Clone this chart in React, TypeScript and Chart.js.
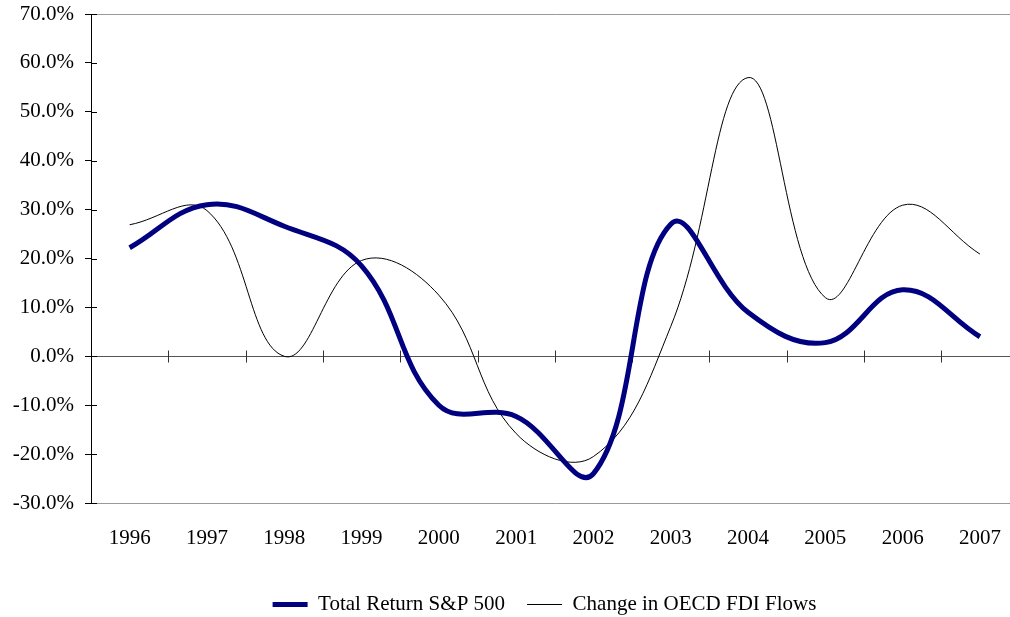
import React, { useEffect, useRef } from 'react';
import { Chart, registerables } from 'chart.js';

Chart.register(...registerables);

const FONT = "'Liberation Serif', 'Times New Roman', serif";

const years = ['1996', '1997', '1998', '1999', '2000', '2001', '2002', '2003', '2004', '2005', '2006', '2007'];
const sp500Return = [22.2, 31.0, 26.6, 18.5, -10.0, -12.3, -24.0, 27.0, 9.0, 2.8, 13.6, 4.0];
const oecdFdiChange = [26.9, 29.8, 0.0, 19.6, 12.5, -15.8, -20.5, 6.1, 57.0, 12.0, 30.9, 20.9];
const yMin = -30;
const yMax = 70;
const yStep = 10;

const seriesNames = ['Total Return S&P 500', 'Change in OECD FDI Flows'];

const zeroAxisPlugin = {
  id: 'zeroAxis',
  beforeDatasetsDraw(chart: any) {
    const { ctx, chartArea, scales } = chart;
    const xs = scales.x;
    const ys = scales.y;
    const y0 = Math.round(ys.getPixelForValue(0)) + 0.5;
    ctx.save();
    ctx.lineWidth = 1;
    ctx.strokeStyle = '#555555';
    ctx.beginPath();
    ctx.moveTo(chartArea.left, y0);
    ctx.lineTo(chartArea.right, y0);
    ctx.stroke();
    ctx.strokeStyle = '#333333';
    ctx.beginPath();
    for (let i = 1; i < years.length; i++) {
      const bx = Math.round((xs.getPixelForValue(i - 1) + xs.getPixelForValue(i)) / 2) + 0.5;
      ctx.moveTo(bx, y0 - 6);
      ctx.lineTo(bx, y0 + 6);
    }
    ctx.stroke();
    ctx.strokeStyle = '#000000';
    ctx.beginPath();
    ys.ticks.forEach((t: any) => {
      const py = Math.round(ys.getPixelForValue(t.value)) + 0.5;
      ctx.moveTo(chartArea.left, py);
      ctx.lineTo(chartArea.left + 6, py);
    });
    ctx.stroke();
    ctx.restore();
  },
};

export default function App() {
  const ref = useRef<HTMLCanvasElement | null>(null);

  useEffect(() => {
    if (!ref.current) return;
    const chart = new Chart(ref.current, {
      type: 'line',
      data: {
        labels: years,
        datasets: [
          {
            label: seriesNames[0],
            data: sp500Return,
            borderColor: '#000080',
            backgroundColor: '#000080',
            borderWidth: 5,
            pointRadius: 0,
            pointStyle: 'line',
            tension: 0.4,
            fill: false,
          },
          {
            label: seriesNames[1],
            data: oecdFdiChange,
            borderColor: '#000000',
            backgroundColor: '#000000',
            borderWidth: 1,
            pointRadius: 0,
            pointStyle: 'line',
            tension: 0.4,
            fill: false,
          },
        ],
      },
      options: {
        responsive: false,
        animation: false,
        devicePixelRatio: 1,
        layout: { padding: { left: 0, top: 14, right: 0, bottom: 0 } },
        plugins: {
          tooltip: { enabled: false },
          legend: {
            position: 'bottom',
            labels: {
              usePointStyle: true,
              pointStyleWidth: 35,
              padding: 22,
              color: '#000000',
              font: { family: FONT, size: 21 },
            },
          },
        },
        scales: {
          x: {
            type: 'category',
            offset: true,
            grid: { display: false, drawTicks: false },
            border: { display: false },
            ticks: {
              color: '#000000',
              padding: 23,
              maxRotation: 0,
              autoSkip: false,
              font: { family: FONT, size: 21 },
            },
            afterFit: (s: any) => {
              s.height = 69;
            },
          },
          y: {
            type: 'linear',
            position: 'left',
            min: yMin,
            max: yMax,
            grid: {
              drawTicks: true,
              tickLength: 6,
              tickColor: '#000000',
              color: (c: any) =>
                c.tick && (c.tick.value === yMax || c.tick.value === yMin) ? '#999999' : 'rgba(0,0,0,0)',
            },
            border: { display: true, color: '#000000', width: 1 },
            ticks: {
              stepSize: yStep,
              color: '#000000',
              padding: 11,
              font: { family: FONT, size: 21 },
              callback: (v: any) => Number(v).toFixed(1) + '%',
            },
            afterFit: (s: any) => {
              s.width = 91;
              s.paddingTop = 0;
              s.paddingBottom = 0;
            },
          },
          yRight: {
            type: 'linear',
            position: 'right',
            display: true,
            grid: { display: false, drawTicks: false },
            border: { display: false },
            ticks: { display: false },
            afterFit: (s: any) => {
              s.width = 70.4;
              s.paddingTop = 0;
              s.paddingBottom = 0;
            },
          },
        },
      },
      plugins: [zeroAxisPlugin],
    } as any);
    return () => chart.destroy();
  }, []);

  return (
    <div
      style={{
        position: 'fixed',
        left: 0,
        top: 0,
        width: 1010,
        height: 617,
        overflow: 'hidden',
        background: '#ffffff',
      }}
    >
      <canvas ref={ref} width={1089} height={625} style={{ display: 'block', width: 1089, height: 625 }} />
    </div>
  );
}
